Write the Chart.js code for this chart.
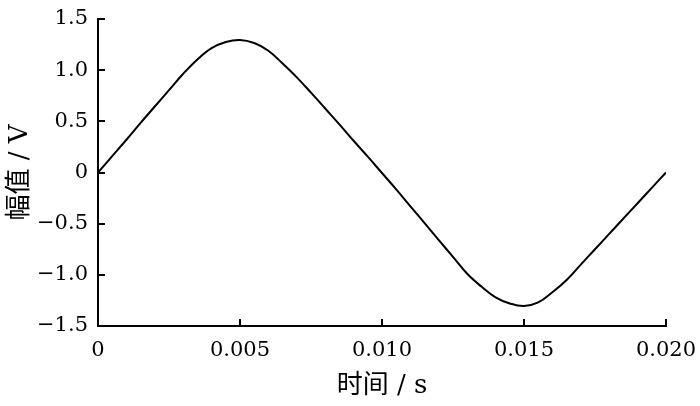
<!DOCTYPE html>
<html>
<head>
<meta charset="utf-8">
<script src="https://cdn.jsdelivr.net/npm/chart.js@4/dist/chart.umd.min.js"></script>
<style>
  body { margin: 0; background: #fff; }
  #wrap { width: 700px; height: 406px; }
</style>
</head>
<body>
<div id="wrap"><canvas id="myChart" width="700" height="406"></canvas></div>
<script>
// 时间 (s) 和 幅值 (V), 从图上读出来的
var timeVals = [0, 0.0005, 0.001, 0.0015, 0.002, 0.0025, 0.003, 0.0035, 0.004, 0.0045,
    0.005, 0.0055, 0.006, 0.0065, 0.007, 0.0075, 0.008, 0.0085, 0.009, 0.0095,
    0.010, 0.0105, 0.011, 0.0115, 0.012, 0.0125, 0.013, 0.0135, 0.014, 0.0145,
    0.015, 0.0155, 0.016, 0.0165, 0.017, 0.0175, 0.018, 0.0185, 0.019, 0.0195, 0.020];
var ampVals = [0, 0.16, 0.32, 0.485, 0.645, 0.805, 0.965, 1.105, 1.215, 1.275,
    1.295, 1.265, 1.19, 1.065, 0.93, 0.78, 0.625, 0.47, 0.31, 0.155,
    -0.005, -0.165, -0.33, -0.495, -0.66, -0.825, -0.99, -1.115, -1.22, -1.28,
    -1.305, -1.27, -1.17, -1.05, -0.90, -0.75, -0.60, -0.45, -0.30, -0.15, 0];
var xTickLabels = ["0", "0.005", "0.010", "0.015", "0.020"];
var yTickLabels = ["\u22121.5", "\u22121.0", "\u22120.5", "0", "0.5", "1.0", "1.5"];

var tickFont = '"DejaVu Serif", "Liberation Serif", serif';
var titleFont = '"DejaVu Serif", "Noto Sans CJK SC", serif';

var points = [];
for (let i = 0; i < timeVals.length; i++) {
    points.push({ x: timeVals[i], y: ampVals[i] });
}

// ticks pointing into the plot
var innerTicks = {
    id: "innerTicks",
    afterDraw(chart) {
        const ctx = chart.ctx;
        const xs = chart.scales.x;
        const ys = chart.scales.y;
        const area = chart.chartArea;
        const len = 7;
        ctx.save();
        ctx.strokeStyle = "#000";
        ctx.lineWidth = 2;
        ctx.beginPath();
        xs.ticks.forEach((t) => {
            const px = Math.round(xs.getPixelForValue(t.value));
            ctx.moveTo(px, area.bottom);
            ctx.lineTo(px, area.bottom - len);
        });
        ys.ticks.forEach((t) => {
            const py = Math.round(ys.getPixelForValue(t.value));
            ctx.moveTo(area.left, py);
            ctx.lineTo(area.left + len, py);
        });
        ctx.stroke();
        ctx.restore();
    },
};

var ctx = document.getElementById("myChart").getContext("2d");
var chart = new Chart(ctx, {
    type: "line",
    data: {
        datasets: [
            {
                data: points,
                borderColor: "#000",
                borderWidth: 2,
                pointRadius: 0,
                fill: false,
                tension: 0.4,
            },
        ],
    },
    options: {
        responsive: false,
        animation: false,
        devicePixelRatio: 1,
        layout: { padding: { top: 19, right: 34, left: 0, bottom: 0 } },
        plugins: {
            legend: { display: false },
            tooltip: { enabled: false },
        },
        scales: {
            x: {
                type: "linear",
                min: 0,
                max: 0.02,
                grid: { display: false, drawTicks: false },
                border: { display: true, color: "#000", width: 2 },
                ticks: {
                    stepSize: 0.005,
                    maxRotation: 0,
                    padding: 12,
                    color: "#000",
                    font: { family: tickFont, size: 21 },
                    callback: (value, index) => xTickLabels[index],
                },
                title: {
                    display: true,
                    text: "时间 / s",
                    color: "#000",
                    font: { family: titleFont, size: 26 },
                    padding: { top: 0, bottom: 4 },
                },
                afterFit: (scale) => {
                    scale.height = 80;
                    scale.paddingLeft = 0;
                    scale.paddingRight = 0;
                },
            },
            y: {
                min: -1.5,
                max: 1.5,
                grid: { display: false, drawTicks: false },
                border: { display: true, color: "#000", width: 2 },
                ticks: {
                    stepSize: 0.5,
                    padding: 10,
                    color: "#000",
                    font: { family: tickFont, size: 21 },
                    callback: (value, index) => yTickLabels[index],
                },
                title: {
                    display: true,
                    text: "幅值 / V",
                    color: "#000",
                    font: { family: titleFont, size: 26 },
                    padding: { top: 5, bottom: 0 },
                },
                afterFit: (scale) => {
                    scale.width = 98;
                    scale.paddingTop = 0;
                    scale.paddingBottom = 0;
                },
            },
        },
    },
    plugins: [innerTicks],
});
</script>
</body>
</html>
